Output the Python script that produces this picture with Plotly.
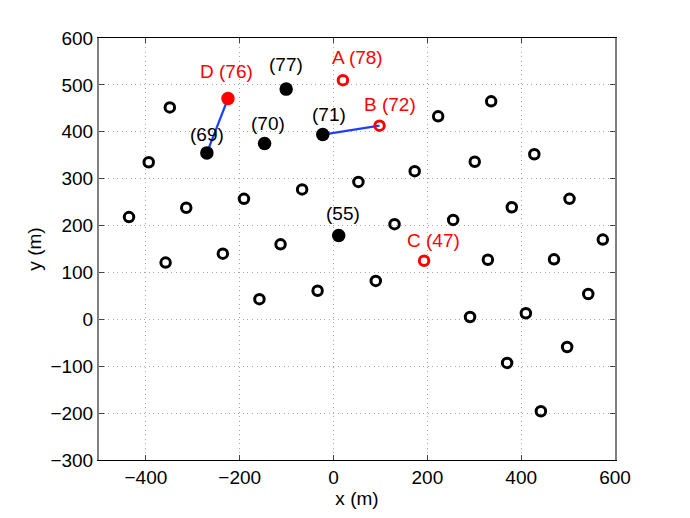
import plotly.graph_objects as go

# ---- data ----
open_x = [-349, -394, -436, -314, -358, -191, -236, -67, -113, 53, -158, -34, 90,
          130, 173, 223, 336, 301, 428, 255, 380, 503, 574, 329, 470, 543, 291,
          410, 498, 370, 442]
open_y = [452, 335, 218, 238, 121, 257, 140, 277, 160, 293, 43, 61, 82,
          203, 316, 433, 465, 336, 352, 212, 239, 257, 170, 127, 128, 54, 5,
          13, -59, -93, -196]

black_x = [-270, -147, -101, -23, 11]
black_y = [355, 375, 491, 394, 179]
black_labels = ["(69)", "(70)", "(77)", "(71)", "(55)"]

red_open_x = [20, 98, 193]
red_open_y = [510, 413, 125]
red_open_labels = ["A (78)", "B (72)", "C (47)"]

red_fill_x = [-225]
red_fill_y = [471]
red_fill_labels = ["D (76)"]

# links: black point -> red point
link_x = [[-270, -225], [-23, 98]]
link_y = [[355, 471], [394, 413]]

x_ticks = [-400, -200, 0, 200, 400, 600]
y_ticks = [-300, -200, -100, 0, 100, 200, 300, 400, 500, 600]

# ---- label offsets (pixels) ----
black_off = [(0, 18), (3, 20), (0, 25), (6, 20), (4, 22)]
red_open_off = [(15, 23), (10, 21), (9, 20)]
red_fill_off = [(-2, 27)]

FONT = "Liberation Sans, Arial, Helvetica, sans-serif"

fig = go.Figure()

for lx, ly in zip(link_x, link_y):
    fig.add_trace(go.Scatter(x=lx, y=ly, mode="lines",
                             line=dict(color="#1f3fff", width=2.2),
                             hoverinfo="skip", showlegend=False))

fig.add_trace(go.Scatter(x=open_x, y=open_y, mode="markers",
                         marker=dict(symbol="circle-open", size=9.5, color="black",
                                     line=dict(width=3, color="black")),
                         showlegend=False))
fig.add_trace(go.Scatter(x=black_x, y=black_y, mode="markers",
                         marker=dict(symbol="circle", size=13.5, color="black"),
                         showlegend=False))
fig.add_trace(go.Scatter(x=red_open_x, y=red_open_y, mode="markers",
                         marker=dict(symbol="circle-open", size=9.5, color="red",
                                     line=dict(width=3, color="red")),
                         showlegend=False))
fig.add_trace(go.Scatter(x=red_fill_x, y=red_fill_y, mode="markers",
                         marker=dict(symbol="circle", size=13.5, color="red"),
                         showlegend=False))

annotations = []
def add_labels(xs, ys, labels, offs, color):
    for x, y, t, (dx, dy) in zip(xs, ys, labels, offs):
        annotations.append(dict(x=x, y=y, text=t, showarrow=False,
                                xshift=dx, yshift=dy,
                                font=dict(family=FONT, size=19, color=color)))

add_labels(black_x, black_y, black_labels, black_off, "black")
add_labels(red_open_x, red_open_y, red_open_labels, red_open_off, "red")
add_labels(red_fill_x, red_fill_y, red_fill_labels, red_fill_off, "red")

# the page body has an 8px margin, so the figure is a bit smaller and margins shifted
fig.update_layout(
    width=682, height=510,
    margin=dict(l=91, r=75, t=30, b=58),
    paper_bgcolor="white", plot_bgcolor="white",
    font=dict(family=FONT, size=19, color="black"),
    annotations=annotations,
)

def fmt(v):
    return ("\u2212" + str(-v)) if v < 0 else str(v)

GRID = dict(showgrid=True, gridcolor="#a8a8a8", griddash="1px,3.5px", gridwidth=1)

fig.update_xaxes(range=[-500, 600], tickvals=x_ticks, ticktext=[fmt(v) for v in x_ticks],
                 **GRID,
                 showline=True, linecolor="black", linewidth=1.3, mirror="ticks",
                 ticks="inside", ticklen=5, tickcolor="#444",
                 zeroline=False,
                 title=dict(text="x (m)", font=dict(family=FONT, size=19), standoff=0),
                 tickfont=dict(family=FONT, size=19))
fig.update_yaxes(range=[-300, 600], tickvals=y_ticks, ticktext=[fmt(v) for v in y_ticks],
                 **GRID,
                 showline=True, linecolor="#808080", linewidth=2, mirror="ticks",
                 ticks="inside", ticklen=5, tickcolor="#444",
                 zeroline=False,
                 title=dict(text="y (m)", font=dict(family=FONT, size=19), standoff=4),
                 tickfont=dict(family=FONT, size=19))

fig.write_html("out.html")
